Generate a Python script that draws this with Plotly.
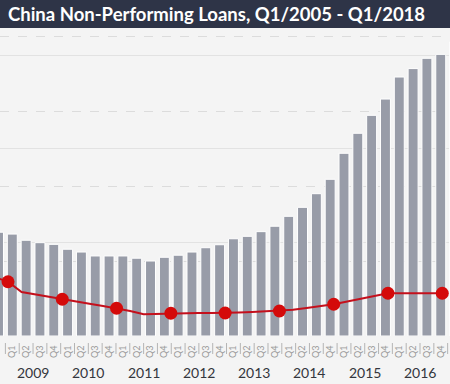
import plotly.graph_objects as go

quarters = ["2008 Q4",
            "2009 Q1", "2009 Q2", "2009 Q3", "2009 Q4",
            "2010 Q1", "2010 Q2", "2010 Q3", "2010 Q4",
            "2011 Q1", "2011 Q2", "2011 Q3", "2011 Q4",
            "2012 Q1", "2012 Q2", "2012 Q3", "2012 Q4",
            "2013 Q1", "2013 Q2", "2013 Q3", "2013 Q4",
            "2014 Q1", "2014 Q2", "2014 Q3", "2014 Q4",
            "2015 Q1", "2015 Q2", "2015 Q3", "2015 Q4",
            "2016 Q1", "2016 Q2", "2016 Q3", "2016 Q4",
            "2017 Q1"]
quarter_labels = [q.split(" ")[1] for q in quarters]
years = ["2009", "2010", "2011", "2012", "2013", "2014", "2015", "2016"]

# Non-performing loans, billion yuan (bars)
npl_balance = [555, 545, 512, 499, 490, 464, 449, 428, 428, 428, 416, 401, 421,
               432, 449, 472, 488, 520, 533, 558, 587, 640, 688, 761, 838,
               977, 1084, 1180, 1267, 1385, 1430, 1485, 1506, 1572]
# Non-performing loan ratio, % (line)
npl_ratio = [2.36, 2.17, 1.76, 1.66, 1.56, 1.47, 1.38, 1.29, 1.20, 1.11, 1.00, 0.87, 0.89,
             0.91, 0.91, 0.92, 0.92, 0.92, 0.94, 0.96, 0.98, 1.00, 1.05, 1.12, 1.19,
             1.27, 1.38, 1.49, 1.60, 1.71, 1.71, 1.71, 1.71, 1.71]

marker_sizes = [13 if lab == "Q1" else 0 for lab in quarter_labels]

fig = go.Figure()
fig.add_trace(go.Bar(
    x=quarters, y=npl_balance, marker=dict(color="#989ca8", line=dict(color="#ffffff", width=1)),
    xaxis="x", yaxis="y", showlegend=False, hoverinfo="skip"))
fig.add_trace(go.Scatter(
    x=quarters, y=npl_ratio, mode="lines+markers",
    line=dict(color="#c4101c", width=2),
    marker=dict(color="#d40a0a", size=marker_sizes, opacity=1, line=dict(width=0)),
    xaxis="x2", yaxis="y2", showlegend=False, hoverinfo="skip"))

annotations = []
for yr in years:
    idx = quarters.index(yr + " Q1")
    annotations.append(dict(x=idx + 1.5, xref="x", y=-0.117, yref="paper", text=yr,
                            showarrow=False, xanchor="center", yanchor="middle",
                            font=dict(family="Lato", size=14, color="#33363d")))
annotations.append(dict(x=6 / 450, xref="paper", y=1 + 14 / 308, yref="paper",
                        text="<b>China Non-Performing Loans, Q1/2005 - Q1/2018</b>",
                        showarrow=False, xanchor="left", yanchor="middle",
                        font=dict(family="Lato", size=18.5, color="#ffffff")))

# separators between quarter labels (category boundaries)
shapes = [dict(type="rect", xref="paper", yref="paper", x0=0, x1=1,
               y0=1, y1=1 + 28 / 308, fillcolor="#2e3447", line=dict(width=0),
               layer="above")]
for i in range(len(quarters)):
    shapes.append(dict(type="line", xref="x", yref="paper", x0=i + 0.5, x1=i + 0.5,
                       y0=-7 / 308, y1=-18 / 308, line=dict(color="#b4b4b4", width=1)))

fig.update_layout(
    width=450, height=384,
    margin=dict(l=0, r=0, t=28, b=48),
    paper_bgcolor="#f4f4f4", plot_bgcolor="#f4f4f4",
    bargap=0.28,
    xaxis=dict(type="category", categoryorder="array", categoryarray=quarters,
               range=[0.109, 32.67], tickvals=quarters, ticktext=quarter_labels,
               tickangle=-90, tickfont=dict(family="Lato", size=9, color="#9a9a9a"),
               ticks="outside", ticklen=5, tickcolor="rgba(0,0,0,0)",
               showgrid=False, zeroline=False, showline=False,
               fixedrange=True),
    xaxis2=dict(type="category", categoryorder="array", categoryarray=quarters,
                range=[0.41, 33.57], overlaying="x", visible=False),
    yaxis=dict(range=[0, 1647], dtick=500, showticklabels=False, ticks="",
               showgrid=True, gridcolor="#e2e2e2", gridwidth=1, zeroline=False),
    yaxis2=dict(range=[0, 12.32], dtick=3, overlaying="y", side="right",
                showticklabels=False, ticks="", showgrid=True,
                gridcolor="#dcdcdc", griddash="dash", gridwidth=1, zeroline=False),
    shapes=shapes,
    annotations=annotations,
)

fig.write_html("out.html", config={"displayModeBar": False},
               post_script="document.body.style.margin='0px';document.body.style.padding='0px';")
